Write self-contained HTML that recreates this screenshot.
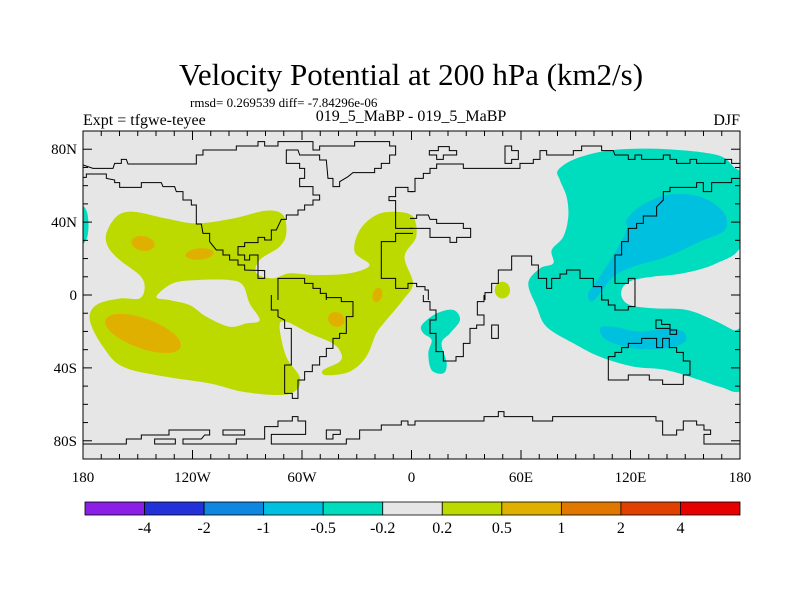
<!DOCTYPE html>
<html><head><meta charset="utf-8"><style>
html,body{margin:0;padding:0;background:#fff;}
svg{display:block;font-family:"Liberation Serif",serif;}
</style></head><body>
<svg id="chart" width="800" height="600" viewBox="0 0 800 600">
<text x="411" y="85" font-size="31" text-anchor="middle">Velocity Potential at 200 hPa (km2/s)</text>
<text x="190" y="107" font-size="13">rmsd= 0.269539 diff= -7.84296e-06</text>
<text x="83" y="125" font-size="16">Expt = tfgwe-teyee</text>
<text x="411" y="121" font-size="16" text-anchor="middle">019_5_MaBP - 019_5_MaBP</text>
<text x="740" y="125" font-size="16" text-anchor="end">DJF</text>
<defs><clipPath id="clip"><rect x="83" y="131" width="657" height="328"/></clipPath></defs>
<rect x="83" y="131" width="657" height="328" fill="#e6e6e6"/>
<g id="fields" clip-path="url(#clip)"></g>
<g id="coast" clip-path="url(#clip)" fill="none" stroke="#000" stroke-width="1">
<g transform="translate(83,130) scale(0.3333)">
<path vector-effect="non-scaling-stroke" d="M0,105 L30,115 L90,115 L95,100 L115,100 L115,88 L130,88 L135,102 L340,102 L340,75 L360,75 L360,60 L460,60 L460,48 L525,48 L525,35 L545,35 L545,48 L585,48 L585,35 L690,35 L690,60 L710,60 L710,48 L815,48 L815,35 L920,35 L920,48 L938,48 L938,75 L920,75 L920,100 L895,100 L895,115 L875,115 L875,128 L810,128 L795,140 L770,155 L770,170 L750,170 L750,145 L735,145 L730,90 L710,90 L710,75 L650,75 L645,60 L610,60 L610,100 L650,100 L650,115 L665,115 L665,145 L650,145 L650,170 L690,170 L690,195 L710,195 L710,210 L690,210 L690,225 L665,225 L665,240 L645,240 L645,255 L610,255 L610,268 L595,268 L580,300 L565,300 L565,330 L545,330 L545,322 L525,322 L525,338 L485,338 L485,350 L465,350 L465,375 L485,375 L485,390 L500,390 L500,375 L525,375 L525,445 L545,445 L545,422 L485,420 L485,405 L465,405 L465,390 L440,390 L440,375 L420,375 L420,360 L400,360 L380,335 L380,310 L360,310 L355,282 L340,282 L340,225 L325,225 L325,210 L300,210 L300,185 L280,185 L275,170 L240,170 L235,158 L175,158 L175,172 L110,172 L110,158 L95,158 L95,150 L70,145 L70,132 L10,132 L10,142 L0,142"/>
<path vector-effect="non-scaling-stroke" d="M585,510 L585,445 L665,445 L665,460 L690,460 L690,475 L712,475 L712,490 L730,490 L730,510"/>
<path vector-effect="non-scaling-stroke" d="M990,185 L975,185 L975,172 L938,172 L938,200 L918,200 L918,212 L938,212 L938,295 L990,295 M990,310 L938,310 L938,335 L895,335 L895,445 L938,445 L938,475 L975,475 L975,460 L990,460"/>
</g>
<g transform="translate(83,295) scale(0.3333)">
<path vector-effect="non-scaling-stroke" d="M565,0 L565,45 L585,45 L585,65 L605,75 L605,100 L625,100 L625,210 L605,210 L605,295 L628,295 L628,310 L645,310 L645,255 L665,255 L665,230 L688,230 L688,210 L710,210 L710,185 L730,185 L730,160 L750,160 L750,130 L770,130 L770,115 L790,115 L790,65 L810,65 L810,20 L775,20 L775,8 L730,8 L730,0"/>
<path vector-effect="non-scaling-stroke" d="M0,447 L130,447 L130,432 L175,432 L175,420 L258,420 L258,405 L380,405 L380,420 L365,420 L355,432 L300,432 L300,447 L460,447 L460,432 L545,432 L545,395 L585,395 L585,378 L628,378 L628,365 L645,365 L645,378 L668,378 L668,418 L565,418 L565,447 L790,447 L790,432 L830,432 L830,405 L895,405 L895,390 L955,390 L955,378 L975,378 L975,390 L990,390"/>
<path vector-effect="non-scaling-stroke" d="M215,432 H277 V447 H215 Z M420,405 H485 V420 H420 Z M730,405 H772 V418 H750 V432 H730 Z"/>
</g>
<g transform="translate(410,130) scale(0.3333)">
<path vector-effect="non-scaling-stroke" d="M0,185 L15,185 L15,145 L40,145 L40,130 L60,130 L60,115 L80,115 L80,102 L160,102 L160,115 L330,115 L330,100 L370,100 L370,88 L390,88 L390,62 L410,62 L410,75 L490,75 L490,62 L515,62 L515,48 L575,48 L575,62 L610,62 L615,75 L655,75 L655,88 L675,88 L675,75 L695,75 L695,88 L760,88 L760,75 L780,75 L780,88 L800,88 L800,100 L840,100 L840,88 L860,88 L860,100 L945,100 L945,88 L965,88 L965,100 L990,100"/>
<path vector-effect="non-scaling-stroke" d="M58,62 H85 V50 H118 V62 H140 V75 H100 V88 H80 V75 H58 Z M285,48 H305 V62 H325 V88 H305 V100 H285 Z"/>
<path vector-effect="non-scaling-stroke" d="M990,145 L965,145 L965,158 L905,158 L905,185 L880,185 L880,158 L860,158 L860,172 L780,172 L780,185 L760,185 L760,210 L740,230 L740,258 L700,258 L700,280 L680,280 L680,295 L655,295 L655,335 L635,335 L635,375 L615,375 L615,460 L655,460 L655,445 L675,445 L675,510"/>
<path vector-effect="non-scaling-stroke" d="M0,265 L20,265 L20,255 L55,255 L60,268 L80,268 L80,280 L160,280 L160,295 L182,295 L182,322 L140,322 L140,337 L120,337 L120,322 L60,322 L60,295 L0,295"/>
<path vector-effect="non-scaling-stroke" d="M225,510 L225,488 L245,488 L245,460 L265,460 L265,420 L305,420 L305,378 L365,378 L365,405 L385,405 L385,445 L410,445 L410,475 L425,475 L425,445 L450,445 L450,432 L470,432 L470,420 L510,420 L510,445 L550,445 L550,470 L575,470 L575,510"/>
<path vector-effect="non-scaling-stroke" d="M0,460 L20,460 L20,470 L45,470 L45,480 L55,480 L55,510"/>
</g>
<g transform="translate(410,295) scale(0.3333)">
<path vector-effect="non-scaling-stroke" d="M40,0 L40,20 L60,20 L60,45 L78,45 L78,75 L60,75 L60,115 L78,115 L78,170 L100,170 L100,198 L138,198 L138,185 L160,185 L160,145 L180,145 L180,100 L200,100 L200,90 L222,90 L222,60 L202,60 L202,20 L222,20 L222,0"/>
<path vector-effect="non-scaling-stroke" d="M245,90 H265 V130 H245 Z"/>
<path vector-effect="non-scaling-stroke" d="M575,0 L575,15 L595,15 L595,30 L615,30 L615,45 L655,45 L655,35 L675,35 L675,0"/>
<path vector-effect="non-scaling-stroke" d="M595,185 L615,185 L615,172 L635,172 L635,158 L655,158 L655,145 L695,145 L695,130 L740,130 L740,158 L758,158 L758,130 L778,130 L778,158 L800,158 L800,172 L820,172 L820,198 L840,198 L840,240 L820,240 L820,268 L758,268 L758,255 L718,255 L718,240 L655,240 L655,255 L595,255 Z"/>
<path vector-effect="non-scaling-stroke" d="M738,75 L738,100 L780,100 L780,118 L800,118 L800,105 L780,105 L780,88 L755,88 L755,75 Z"/>
<path vector-effect="non-scaling-stroke" d="M0,390 L15,390 L15,378 L222,378 L222,365 L265,365 L265,350 L282,350 L282,365 L368,365 L368,378 L428,378 L428,365 L738,365 L738,378 L758,378 L758,420 L800,420 L800,405 L820,405 L820,378 L860,378 L860,390 L882,390 L882,405 L902,405 L902,418 L882,418 L882,447 L990,447"/>
</g>
</g>
<g id="axes"></g>
<rect x="83" y="131" width="657" height="328" fill="none" stroke="#000" stroke-width="1"/>
<g id="colorbar"></g>
</svg>
<script>
const lonTicks = [-180,-120,-60,0,60,120,180];
const lonLabels = ["180","120W","60W","0","60E","120E","180"];
const latTicks = [80,40,0,-40,-80];
const latLabels = ["80N","40N","0","40S","80S"];
const levelLabels = ["-4","-2","-1","-0.5","-0.2","0.2","0.5","1","2","4"];
const levelColors = ["#8c1fe6","#2232d8","#0f86e0","#00c0e0","#00dcbe","#e6e6e6","#bcda00","#e0b000","#e07800","#e04000","#e60000"];

// contour regions in [lon, lat]
const greenOuter = [[-167.2,33.8],[-161.7,43.0],[-152.6,45.7],[-134.4,42.0],[-117.9,39.3],[-97.8,42.0],[-79.6,46.3],[-70.4,43.9],[-68.6,33.8],[-72.3,26.5],[-83.2,19.2],[-85.0,11.9],[-75.9,9.1],[-66.8,11.9],[-52.2,10.9],[-33.9,11.9],[-23.0,16.4],[-31.2,23.7],[-28.4,35.6],[-19.3,43.9],[-8.4,45.7],[0.8,43.0],[2.6,32.0],[-3.8,21.0],[0.8,6.4],[-4.7,-2.8],[-13.8,-13.8],[-19.3,-21.1],[-24.8,-33.9],[-33.9,-42.1],[-46.7,-44.0],[-48.5,-41.2],[-39.4,-36.6],[-38.5,-32.1],[-43.1,-26.6],[-55.8,-21.1],[-68.6,-14.7],[-72.3,-17.4],[-68.6,-33.9],[-61.3,-44.9],[-63.1,-52.2],[-72.3,-54.9],[-92.4,-53.1],[-110.6,-48.5],[-134.4,-44.9],[-158.1,-39.4],[-169.0,-28.4],[-176.3,-13.8],[-172.7,-5.5],[-159.9,-1.9],[-149.0,-1.9],[-146.2,4.5],[-149.0,10.9],[-159.9,19.2],[-166.3,26.5]];
const greenHole = [[-139.8,-1.0],[-130.7,6.4],[-117.9,8.2],[-99.7,8.2],[-92.4,5.4],[-88.7,-4.6],[-83.2,-13.8],[-90.5,-15.6],[-99.7,-17.4],[-112.4,-11.9],[-121.6,-5.5],[-132.5,-2.8]];
// orange spots: [lon, lat, lonRadius, latRadius, rotation]
const orangeSpots = [[-147.1,28.3,6.4,4.0,10],[-116.1,22.5,7.7,3.1,-5],[-147.1,-21.1,21.9,8.2,20],[-41.2,-13.4,4.6,4.0,20],[-18.7,0.0,2.6,4.0,15]];
const greenSpots = [[49.8,2.7,4.2,4.6,0]];
const tealMain = [[80.4,68.6],[90.5,75.0],[110.6,79.6],[139.8,80.0],[167.2,76.9],[176.3,70.5],[181,63.1],[181,28.4],[167.2,17.4],[148.9,11.9],[132.5,10.1],[121.5,8.2],[116.0,4.6],[115.1,-0.9],[119.7,-5.5],[132.5,-7.3],[150.7,-8.2],[165.3,-13.7],[176.3,-19.2],[181,-21.0],[181,-51.2],[169.0,-50.3],[158.0,-46.7],[139.8,-41.2],[121.5,-39.3],[103.3,-33.9],[88.7,-26.5],[74.0,-17.4],[68.6,-6.4],[64.0,6.4],[70.4,14.6],[77.7,17.4],[76.8,24.7],[83.2,32.0],[85.9,43.0],[85.0,54.0],[81.3,63.1]];
const tealSmall = [[5.6,-16.5],[13.8,-10.1],[22.9,-8.2],[26.6,-13.7],[21.1,-21.0],[16.5,-26.5],[19.3,-37.5],[17.4,-43.0],[11.0,-41.2],[9.2,-32.0],[11.0,-24.7],[6.5,-21.0]];
const tealWest = [[-181,48],[-178,46],[-177,38],[-178,31],[-181,29]];
const cyanNorth = [[117.9,41.2],[125.2,48.5],[139.8,54.9],[158.0,54.0],[170.8,45.7],[171.7,35.7],[158.0,29.3],[139.8,21.0],[121.5,15.6],[110.6,10.1],[103.3,0.9],[98.7,-3.7],[96.9,0.9],[103.3,10.1],[112.4,24.7],[117.9,35.7]];
const cyanSouth = [[103.3,-18.3],[110.6,-17.4],[125.2,-20.1],[139.8,-18.3],[148.9,-20.1],[149.8,-25.6],[139.8,-29.3],[121.5,-29.3],[106.9,-24.7]];

const X0=83, X1=740, Y0=131, Y1=459;
function xScale(lon){ return X0 + (lon+180)/360*(X1-X0); }
function yScale(lat){ return Y0 + (90-lat)/180*(Y1-Y0); }
const NS="http://www.w3.org/2000/svg";
function smoothPath(pts){
  const p = pts.map(d=>[xScale(d[0]),yScale(d[1])]);
  const n=p.length; let s="M"+p[0][0].toFixed(1)+","+p[0][1].toFixed(1);
  for(let i=0;i<n;i++){
    const p0=p[(i-1+n)%n],p1=p[i],p2=p[(i+1)%n],p3=p[(i+2)%n];
    const c1=[p1[0]+(p2[0]-p0[0])/6,p1[1]+(p2[1]-p0[1])/6];
    const c2=[p2[0]-(p3[0]-p1[0])/6,p2[1]-(p3[1]-p1[1])/6];
    s+=" C"+c1[0].toFixed(1)+","+c1[1].toFixed(1)+" "+c2[0].toFixed(1)+","+c2[1].toFixed(1)+" "+p2[0].toFixed(1)+","+p2[1].toFixed(1);
  }
  return s+"Z";
}
const fields=document.getElementById("fields");
function addPath(d,fill,name,rule){
  const el=document.createElementNS(NS,"path");
  el.setAttribute("d",d); el.setAttribute("fill",fill);
  if(rule) el.setAttribute("fill-rule",rule);
  
  
  fields.appendChild(el);
}
function addEllipse(s,fill,name){
  const cx=xScale(s[0]), cy=yScale(s[1]);
  const el=document.createElementNS(NS,"ellipse");
  el.setAttribute("cx",cx); el.setAttribute("cy",cy);
  el.setAttribute("rx",xScale(s[0]+s[2])-cx); el.setAttribute("ry",cy-yScale(s[1]+s[3]));
  el.setAttribute("transform","rotate("+s[4]+" "+cx+" "+cy+")");
  el.setAttribute("fill",fill);
  
  
  fields.appendChild(el);
}
addPath(smoothPath(greenOuter)+" "+smoothPath(greenHole),levelColors[6],"positive-region-0.2","evenodd");
orangeSpots.forEach(s=>addEllipse(s,levelColors[7],"positive-region-0.5"));
greenSpots.forEach(s=>addEllipse(s,levelColors[6],"positive-region-small"));
addPath(smoothPath(tealMain),levelColors[4],"negative-region-0.2");
addPath(smoothPath(tealSmall),levelColors[4],"negative-region-africa");
addPath(smoothPath(tealWest),levelColors[4],"negative-region-west-edge");
addPath(smoothPath(cyanNorth),levelColors[3],"negative-region-0.5-north");
addPath(smoothPath(cyanSouth),levelColors[3],"negative-region-0.5-south");

const axes=document.getElementById("axes");
function line(x1,y1,x2,y2,name){
  const el=document.createElementNS(NS,"line");
  el.setAttribute("x1",x1);el.setAttribute("y1",y1);el.setAttribute("x2",x2);el.setAttribute("y2",y2);
  el.setAttribute("stroke","#000");el.setAttribute("stroke-width","1");
  
  
  axes.appendChild(el);
}
function text(x,y,t,anchor,size,name,g){
  const el=document.createElementNS(NS,"text");
  el.setAttribute("x",x);el.setAttribute("y",y);el.setAttribute("text-anchor",anchor);el.setAttribute("font-size",size);
  el.textContent=t;
  
  
  (g||axes).appendChild(el);
}
for(let lon=-180;lon<=180;lon+=10){
  const x=xScale(lon), major=lonTicks.includes(lon), L=major?9:5;
  line(x,Y0,x,Y0+L,"x-tick-top"); line(x,Y1,x,Y1-L,"x-tick-bottom");
}
for(let lat=-90;lat<=90;lat+=10){
  const y=yScale(lat), major=latTicks.includes(lat), L=major?9:5;
  line(X0,y,X0+L,y,"y-tick-left"); line(X1,y,X1-L,y,"y-tick-right");
}
lonTicks.forEach((lon,i)=>text(xScale(lon),482,lonLabels[i],"middle",15,"x-tick-label"));
latTicks.forEach((lat,i)=>text(77,yScale(lat)+5,latLabels[i],"end",15,"y-tick-label"));

const cb=document.getElementById("colorbar");
const cbX0=85, cbX1=740, w=(cbX1-cbX0)/levelColors.length;
levelColors.forEach((c,i)=>{
  const r=document.createElementNS(NS,"rect");
  r.setAttribute("x",cbX0+i*w);r.setAttribute("y",502);r.setAttribute("width",w);r.setAttribute("height",13);
  r.setAttribute("fill",c);r.setAttribute("stroke","#000");r.setAttribute("stroke-width","0.8");
  
  
  cb.appendChild(r);
});
levelLabels.forEach((t,i)=>text(cbX0+(i+1)*w,533,t,"middle",16,"colorbar-label",cb));
</script>
</body></html>
